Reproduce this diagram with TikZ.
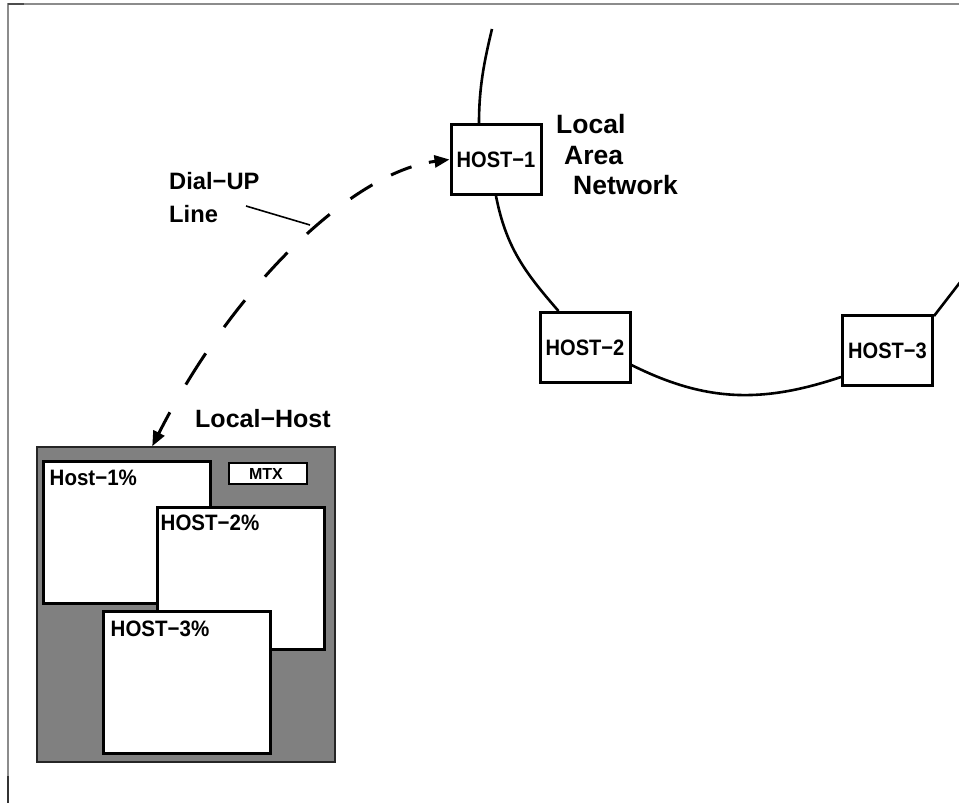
\documentclass[tikz,border=0pt]{standalone}
\usepackage{fontspec}
\setmainfont{Liberation Sans}
\newfontfamily\lblfont{Liberation Sans Bold}
\newfontfamily\hostfont{Liberation Sans Bold}[FakeStretch=0.9]
\newfontfamily\winfont{Liberation Sans Bold}[FakeStretch=0.92]
\usetikzlibrary{arrows.meta,calc}

\definecolor{framegray}{HTML}{8C8C8C}
\definecolor{panelgray}{HTML}{808080}

\tikzset{
  frameline/.style={draw=framegray, line width=1.5pt},
  ringline/.style={line width=2.6pt},
  hostbox/.style={draw, line width=3pt, fill=white, minimum width=90pt,
    minimum height=70pt, inner sep=0pt, font=\hostfont\fontsize{22.3}{26}\selectfont},
  panel/.style={draw=black!85, line width=1.5pt, fill=panelgray,
    minimum width=298pt, minimum height=315pt, inner sep=0pt},
  winbox/.style={draw, line width=3pt, fill=white, minimum width=167pt,
    minimum height=142pt, inner sep=0pt},
  wintext/.style={anchor=base west, inner sep=0pt, font=\winfont\fontsize{22.3}{26}\selectfont},
  mtxbox/.style={draw, line width=2pt, fill=white, minimum width=78pt,
    minimum height=21pt, inner sep=0pt},
  mtxtext/.style={inner sep=0pt, font=\lblfont\fontsize{16}{18}\selectfont},
  lantext/.style={anchor=base west, inner sep=0pt, font=\lblfont\fontsize{26.5}{30}\selectfont},
  dialtext/.style={anchor=base west, inner sep=0pt, font=\lblfont\fontsize{23.7}{27}\selectfont},
  hosttitle/.style={anchor=base west, inner sep=0pt, font=\lblfont\fontsize{25}{28}\selectfont},
  dialup/.style={line width=3pt,
    dash pattern=on 24pt off 32pt on 37pt off 32pt on 34pt off 31pt on 33pt off 27pt
                 on 30pt off 26pt on 26pt off 21pt on 22pt off 18pt on 60pt off 10pt,
    {Triangle[length=15pt,width=12pt]}-{Triangle[length=15pt,width=12pt]}},
  pointer/.style={line width=1.6pt}
}

\begin{document}
\begin{tikzpicture}[x=1pt,y=-1pt]
\useasboundingbox (0,0) rectangle (959,803);
\clip (0,0) rectangle (959,803);

% page frame
\draw[frameline] (8,803) -- (8,4) -- (959,4);
\draw[line width=1.5pt, black!70] (8,4) -- (24,4);
\draw[line width=1.5pt, black!80] (8,776) -- (8,803);

% hosts on the ring
\node[hostbox] (h1) at (496,159.5) {HOST−1};
\node[hostbox] (h2) at (585,347.5) {HOST−2};
\node[hostbox] (h3) at (887.5,350.5) {HOST−3};

% ring segments between the hosts
\coordinate (ringtop) at (492,29);
\coordinate (ringend) at (968,272);
\draw[ringline] (ringtop) .. controls +(-8,33) and +(0,-35) .. ($(h1.north)+(-17,0)$);
\draw[ringline] (h1.south) .. controls +(10,51) and +(-34,-39) .. ($(h2.north west)+(20,0)$);
\draw[ringline] ($(h2.east)+(0,17.5)$) .. controls +(74,37) and +(-79,26.5) .. ($(h3.west)+(0,26.5)$);
\draw[ringline] ($(h3.north east)+(0,2)$) -- (ringend);

% ring labels
\node[lantext] (lan1) at (556,133) {Local};
\node[lantext] (lan2) at (564,164) {Area};
\node[lantext] (lan3) at (573,194) {Network};

% local host panel with its windows
\node[panel] (lh) at (186,604.5) {};
\node[hosttitle] (lhtitle) at (195,427) {Local−Host};
\node[winbox] (w1) at (126.5,532.5) {};
\node[wintext] at ($(w1.north west)+(8,25)$) {Host−1\%};
\node[winbox] (w2) at (240.5,578) {};
\node[wintext] at ($(w2.north west)+(5,25)$) {HOST−2\%};
\node[winbox] (w3) at (186.5,682) {};
\node[wintext] at ($(w3.north west)+(9,27)$) {HOST−3\%};
\node[mtxbox] (mtx) at (268,473.5) {};
\node[mtxtext] at ($(mtx.center)+(-2,0)$) {MTX};

% dial-up connection
\coordinate (dialend) at ($(lh.north west)+(116,0)$);
\draw[dialup] (dialend) .. controls (233,287) and (352,172) .. (h1.west);

\node[dialtext] (dial1) at (169,189) {Dial−UP};
\node[dialtext] (dial2) at (169,222) {Line};
\coordinate (ptrA) at (246,206);
\coordinate (ptrB) at (310,225);
\draw[pointer] (ptrA) -- (ptrB);
\end{tikzpicture}
\end{document}
